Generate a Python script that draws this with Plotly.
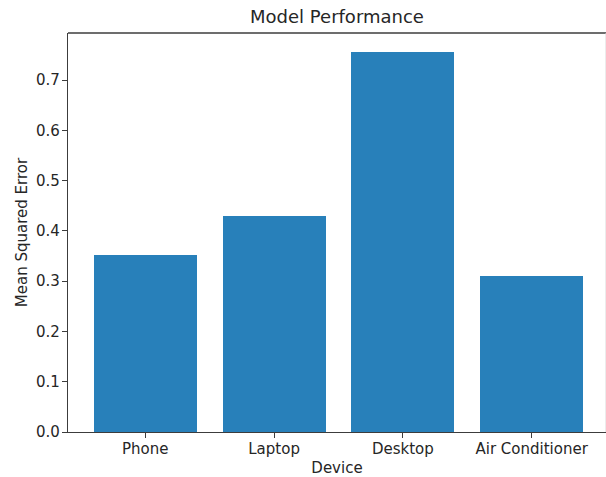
import plotly.graph_objects as go

# Mean squared error per device category
devices = ["Phone", "Laptop", "Desktop", "Air Conditioner"]
mse = [0.352, 0.429, 0.756, 0.310]
y_ticks = [0.0, 0.1, 0.2, 0.3, 0.4, 0.5, 0.6, 0.7]

BAR_COLOR = "#2880ba"
AXIS_COLOR = "#3c3c3c"
TEXT_COLOR = "#262626"
FONT = "DejaVu Sans"

fig = go.Figure(
    go.Bar(
        x=list(range(len(devices))),
        y=mse,
        width=0.8,
        marker=dict(color=BAR_COLOR, line=dict(width=0)),
    )
)

fig.update_layout(
    width=606,
    height=477,
    margin=dict(l=68, r=0, t=33, b=45),
    paper_bgcolor="white",
    plot_bgcolor="white",
    showlegend=False,
    font=dict(family=FONT, size=15, color=TEXT_COLOR),
    title=dict(
        text="Model Performance",
        x=(68 + 606) / 2 / 606,
        xanchor="center",
        y=1 - 17 / 477,
        yanchor="middle",
        font=dict(family=FONT, size=18, color=TEXT_COLOR),
    ),
    bargap=0,
)

fig.update_xaxes(
    range=[-0.6, 3.577],
    tickmode="array",
    tickvals=list(range(len(devices))),
    ticktext=devices,
    showgrid=False,
    zeroline=False,
    showline=True,
    linecolor=AXIS_COLOR,
    linewidth=1.3,
    ticks="outside",
    ticklen=5,
    tickwidth=1.1,
    tickcolor=AXIS_COLOR,
    ticklabelstandoff=-2,
    title=dict(text="Device", standoff=6, font=dict(size=15)),
)

fig.update_yaxes(
    range=[0, 0.794],
    tickmode="array",
    tickvals=y_ticks,
    ticktext=[f"{v:.1f}" for v in y_ticks],
    showgrid=False,
    zeroline=False,
    showline=True,
    linecolor=AXIS_COLOR,
    linewidth=1.3,
    ticks="outside",
    ticklen=5,
    tickwidth=1.1,
    tickcolor=AXIS_COLOR,
    ticklabelstandoff=-1,
    title=dict(text="Mean Squared Error", standoff=4, font=dict(size=15)),
)

# Top and right frame lines of the axes box
fig.add_shape(type="line", xref="paper", yref="paper", x0=0, x1=1, y0=1, y1=1,
              line=dict(color=AXIS_COLOR, width=1.3))
fig.add_shape(type="line", xref="paper", yref="paper", x0=1, x1=1, y0=0, y1=1,
              line=dict(color="#d8d8d8", width=1))

fig.write_html("out.html")
